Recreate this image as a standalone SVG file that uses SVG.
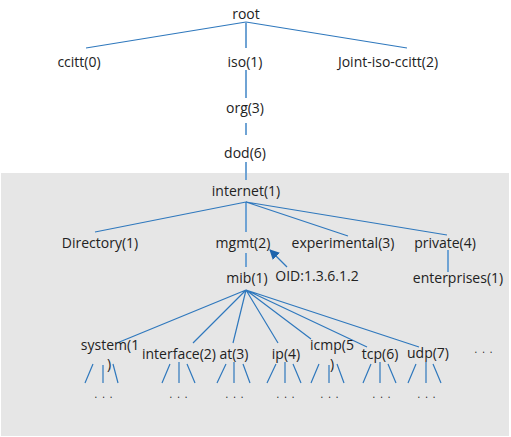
<svg xmlns="http://www.w3.org/2000/svg" width="511" height="437" viewBox="0 0 511 437">
<style>
text{font-family:"Open Sans","Noto Sans","Liberation Sans",sans-serif;font-size:14px;fill:#222;text-anchor:middle}
.l{stroke:#2f78bd;stroke-width:1.2;fill:none}
.v{stroke:#6fa3d4;stroke-width:2;fill:none}
.d{font-size:10px;letter-spacing:5px}
</style>
<defs>
<marker id="ah" viewBox="0 0 10 10" refX="9" refY="5" markerWidth="10" markerHeight="10" markerUnits="userSpaceOnUse" orient="auto">
<path d="M0,0 L10,5 L0,10 z" fill="#1d64ad"/>
</marker>
</defs>
<rect x="1" y="173" width="508" height="263" fill="#e6e6e6"/>
<g id="connectors">
<path class="l" d="M246,22 L86,48 M246,22 L407,48"/>
<path class="v" d="M246,22 V48 M246,70 V98 M246,123 V135 M246,162 V180 M246,202 V232 M246,253 V267 M448,250 V272"/>
<path class="l" d="M246,202 L95,232 M246,202 L348,236 M246,202 L447,235"/>
<path class="l" d="M246,290 L117,343 M246,290 L193,343 M246,290 L233,343 M246,290 L278,343 M246,290 L311,339 M246,290 L367,347 M246,290 L419,347"/>
<path class="l" d="M287,267 L270,250" marker-end="url(#ah)"/>
<g class="l">
<path d="M93,364 L85,383 M103,365 V383 M113,364 L118,383"/>
<path d="M170,364 L162,383 M179,362 V383 M187,364 L195,383"/>
<path d="M226,364 L217,383 M234,362 V383 M243,364 L250,383"/>
<path d="M276,364 L267,383 M285,362 V383 M293,364 L301,383"/>
<path d="M319,364 L311,383 M329,365 V383 M337,364 L344,383"/>
<path d="M371,364 L363,383 M380,362 V383 M388,364 L396,383"/>
<path d="M416,364 L408,383 M426,362 V383 M433,364 L441,383"/>
</g>
</g>
<g id="root"><text x="246" y="19">root</text></g>
<g id="ccitt"><text x="79" y="67">ccitt(0)</text></g>
<g id="iso"><text x="245" y="67">iso(1)</text></g>
<g id="joint"><text x="388" y="67">Joint-iso-ccitt(2)</text></g>
<g id="org"><text x="245" y="113">org(3)</text></g>
<g id="dod"><text x="245" y="158">dod(6)</text></g>
<g id="internet"><text x="246" y="196">internet(1)</text></g>
<g id="directory"><text x="100" y="248">Directory(1)</text></g>
<g id="mgmt"><text x="243" y="248">mgmt(2)</text></g>
<g id="experimental"><text x="343" y="248">experimental(3)</text></g>
<g id="private"><text x="445" y="248">private(4)</text></g>
<g id="mib"><text x="247" y="283">mib(1)</text></g>
<g id="oid"><text x="317" y="281">OID:1.3.6.1.2</text></g>
<g id="enterprises"><text x="458" y="283">enterprises(1)</text></g>
<g id="system"><text x="110" y="350">system(1</text><text x="109" y="369">)</text><text class="d" x="106" y="398">...</text></g>
<g id="interface"><text x="179" y="359">interface(2)</text><text class="d" x="181" y="398">...</text></g>
<g id="at"><text x="234" y="359">at(3)</text><text class="d" x="237" y="398">...</text></g>
<g id="ip"><text x="286" y="359">ip(4)</text><text class="d" x="288" y="398">...</text></g>
<g id="icmp"><text x="332" y="350">icmp(5</text><text x="332" y="369">)</text><text class="d" x="332" y="398">...</text></g>
<g id="tcp"><text x="380" y="359">tcp(6)</text><text class="d" x="384" y="398">...</text></g>
<g id="udp"><text x="428" y="358">udp(7)</text><text class="d" x="429" y="398">...</text></g>
<g id="more"><text class="d" x="486" y="353">...</text></g>
</svg>
